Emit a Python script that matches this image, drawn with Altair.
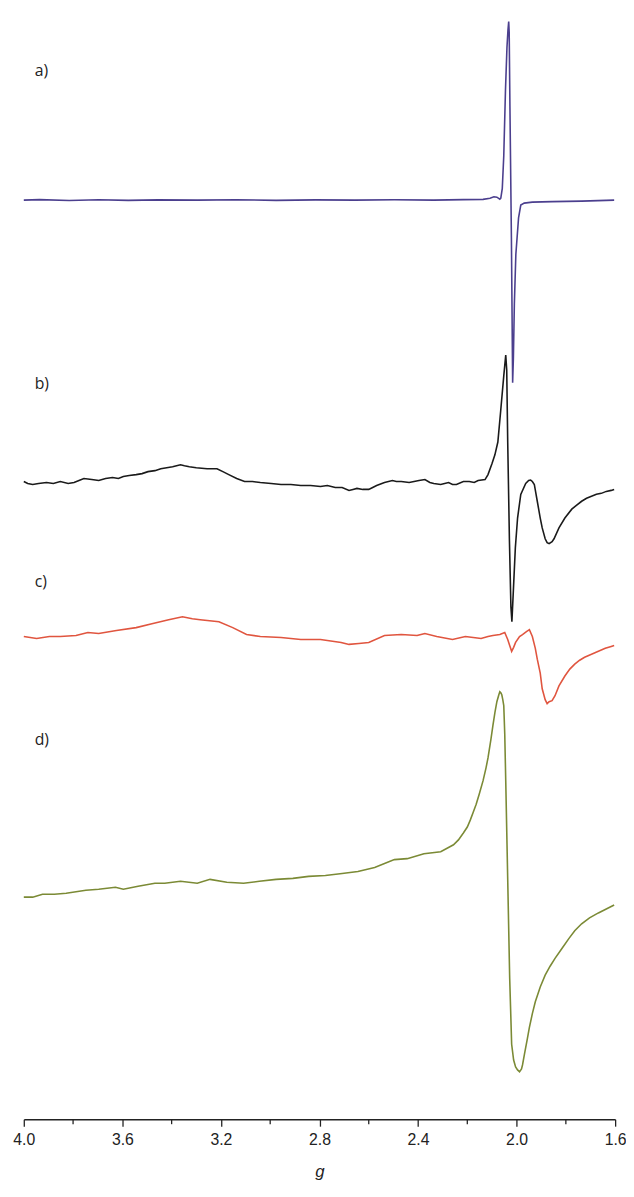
import altair as alt
import pandas as pd

# ---- data (g value, signal in arbitrary units) ----
trace_names = ["a", "b", "c", "d"]
trace_colors = ["#4b3f8e", "#1a1a1a", "#e0553f", "#7b8a35"]
trace_offsets = [931, 644, 489, 225]

a_g = [4.000, 3.936, 3.816, 3.696, 3.576, 3.456, 3.296, 3.136, 2.976, 2.816, 2.656, 2.496,
       2.336, 2.216, 2.136, 2.108, 2.092, 2.080, 2.068, 2.064, 2.058, 2.052, 2.045, 2.039,
       2.035, 2.032, 2.030, 2.027, 2.021, 2.016, 2.013, 2.009, 2.003, 1.992, 1.983, 1.969,
       1.936, 1.856, 1.736, 1.604]
a_v = [0, 0.5, -0.3, 0.4, -0.2, 0.3, 0, 0.4, -0.2, 0.3, 0, 0.4,
       0, 0.5, 0.8, 2, 3.5, 3, 1, 2, 12, 45, 112, 155,
       172, 181, 170, 95, -38, -185, -160, -105, -55, -18, -5, -3,
       -2, -1.5, -1, 0]

b_g = [4.000, 3.984, 3.964, 3.940, 3.908, 3.880, 3.852, 3.820, 3.796, 3.776, 3.756, 3.724,
       3.696, 3.668, 3.640, 3.616, 3.596, 3.572, 3.544, 3.520, 3.496, 3.468, 3.444, 3.420,
       3.396, 3.380, 3.364, 3.348, 3.328, 3.300, 3.256, 3.216, 3.192, 3.168, 3.136, 3.104,
       3.072, 3.040, 2.996, 2.956, 2.916, 2.876, 2.836, 2.796, 2.768, 2.736, 2.708, 2.680,
       2.664, 2.648, 2.624, 2.600, 2.584, 2.568, 2.536, 2.504, 2.488, 2.468, 2.436, 2.416,
       2.396, 2.372, 2.352, 2.336, 2.308, 2.292, 2.276, 2.260, 2.244, 2.216, 2.192, 2.172,
       2.156, 2.128, 2.116, 2.100, 2.088, 2.076, 2.064, 2.052, 2.044, 2.040, 2.036, 2.029,
       2.023, 2.019, 2.013, 2.005, 1.996, 1.983, 1.963, 1.951, 1.943, 1.936, 1.928, 1.916,
       1.904, 1.896, 1.884, 1.876, 1.868, 1.856, 1.848, 1.828, 1.804, 1.776, 1.756, 1.736,
       1.716, 1.696, 1.676, 1.656, 1.636, 1.616, 1.604]
b_v = [2, 0, -1, 0, 1, 0, 2, 0, 1, 3, 5, 4,
       3, 5, 6, 5, 7, 8, 9, 10, 12, 13, 15, 16,
       17, 18, 19, 18, 17, 16, 15, 15, 12, 9, 5, 2,
       2, 1, 0, -1, -1, -2, -2, -3, -2, -4, -4, -7,
       -6, -5, -6, -6, -4, -2, 1, 3, 2, 2, 1, 2,
       3, 4, 1, 0, -1, 0, 1, -1, -1, 2, 2, 1,
       3, 4, 9, 20, 29, 42, 75, 109, 130, 115, 42, -58,
       -125, -140, -108, -65, -35, -11, 0, 3, 3.5, 2, -1, -18,
       -35, -45, -56, -60, -61, -59, -56, -45, -35, -26, -22, -18,
       -15, -13, -11, -10, -8, -7, -6]

c_g = [4.000, 3.948, 3.896, 3.852, 3.788, 3.740, 3.696, 3.624, 3.544, 3.480, 3.412, 3.356,
       3.316, 3.284, 3.208, 3.152, 3.096, 3.040, 2.956, 2.876, 2.796, 2.712, 2.680, 2.640,
       2.600, 2.536, 2.468, 2.404, 2.372, 2.324, 2.260, 2.208, 2.176, 2.144, 2.116, 2.096,
       2.068, 2.048, 2.036, 2.028, 2.020, 2.012, 2.004, 1.988, 1.976, 1.960, 1.948, 1.936,
       1.924, 1.916, 1.904, 1.896, 1.884, 1.876, 1.868, 1.856, 1.844, 1.828, 1.804, 1.784,
       1.764, 1.744, 1.724, 1.696, 1.668, 1.640, 1.616, 1.604]
c_v = [0, -2, 0, 0, 1, 4, 3, 6, 9, 13, 17, 20,
       18, 17, 15, 9, 2, 0, -1, -3, -3, -6, -8, -7,
       -6, 1, 2, 1, 3, 0, -3, 0, -1, -2, 0, 1,
       2, 4, -3, -9, -15, -11, -6, 0, 2, 5, 7, 0,
       -12, -23, -37, -53, -64, -68, -66, -65, -60, -50, -40, -33,
       -28, -24, -21, -18, -15, -12, -10, -9]

d_g = [4.000, 3.964, 3.924, 3.876, 3.828, 3.748, 3.696, 3.628, 3.596, 3.536, 3.468, 3.428,
       3.364, 3.296, 3.244, 3.176, 3.108, 3.044, 2.976, 2.908, 2.844, 2.776, 2.708, 2.644,
       2.576, 2.536, 2.496, 2.444, 2.376, 2.308, 2.256, 2.236, 2.216, 2.200, 2.188, 2.176,
       2.164, 2.152, 2.136, 2.124, 2.116, 2.104, 2.096, 2.088, 2.080, 2.072, 2.068, 2.064,
       2.060, 2.056, 2.052, 2.048, 2.044, 2.036, 2.028, 2.020, 2.012, 2.004, 1.996, 1.988,
       1.980, 1.976, 1.968, 1.956, 1.948, 1.936, 1.924, 1.904, 1.884, 1.864, 1.844, 1.816,
       1.788, 1.764, 1.736, 1.704, 1.668, 1.644, 1.620, 1.604]
d_v = [0, 0, 3, 3, 4, 7, 8, 10, 8, 11, 14, 14,
       16, 14, 18, 15, 14, 16, 18, 19, 21, 22, 24, 26,
       30, 34, 38, 39, 44, 46, 53, 58, 65, 71, 78, 86,
       94, 104, 118, 131, 141, 160, 174, 187, 198, 205, 208, 207,
       205, 200, 194, 165, 118, 18, -82, -149, -165, -172, -175, -177,
       -174, -170, -159, -143, -132, -118, -106, -91, -79, -70, -62, -52,
       -42, -34, -27, -21, -16, -13, -10, -8]

label_texts = ["a)", "b)", "c)", "d)"]
label_g = [3.956, 3.956, 3.956, 3.956]
label_y = [1062, 745, 544, 384]

major_ticks = [4.0, 3.6, 3.2, 2.8, 2.4, 2.0, 1.6]
minor_ticks = [3.8, 3.4, 3.0, 2.6, 2.2, 1.8]

# ---- build tables ----
rows = []
for name, off, gs, vs in zip(trace_names, trace_offsets,
                             [a_g, b_g, c_g, d_g], [a_v, b_v, c_v, d_v]):
    for g, v in zip(gs, vs):
        rows.append({"trace": name, "g": g, "y": off + v})
df = pd.DataFrame(rows)
labels = pd.DataFrame({"text": label_texts, "g": label_g, "y": label_y})
minor = pd.DataFrame({"g": minor_ticks})

W, H = 599, 1118
xscale = alt.Scale(domain=[1.6, 4.0], reverse=True, nice=False, zero=False)
yscale = alt.Scale(domain=[0, H], nice=False, zero=False)

lines = alt.Chart(df).mark_line(strokeWidth=1.6).encode(
    x=alt.X("g:Q", scale=xscale,
            axis=alt.Axis(values=major_ticks, format=".1f", title="g",
                          tickSize=7, tickWidth=1.3, tickColor="#222",
                          domainWidth=1.3, domainColor="#222",
                          labelFont="Liberation Sans", labelFontSize=16,
                          labelColor="#222", labelPadding=6, labelFlush=False,
                          labelOverlap=False, grid=False,
                          titleFont="Liberation Sans", titleFontSize=17,
                          titleFontStyle="italic", titleFontWeight="normal",
                          titleColor="#222", titlePadding=16)),
    y=alt.Y("y:Q", scale=yscale, axis=None),
    color=alt.Color("trace:N", scale=alt.Scale(domain=trace_names, range=trace_colors),
                    legend=None),
    detail="trace:N",
)

minor_rules = alt.Chart(minor).mark_rule(color="#222", strokeWidth=1.3).encode(
    x=alt.X("g:Q", scale=xscale),
    y=alt.value(H),
    y2=alt.value(H + 5),
)

texts = alt.Chart(labels).mark_text(
    align="left", baseline="middle", font="Open Sans", fontSize=16, color="#222"
).encode(
    x=alt.X("g:Q", scale=xscale),
    y=alt.Y("y:Q", scale=yscale),
    text="text:N",
)

chart = alt.layer(lines, minor_rules, texts).properties(
    width=W, height=H,
    autosize=alt.AutoSizeParams(type="none"),
    padding={"left": 16, "top": 0, "right": 11, "bottom": 63},
).configure_view(stroke=None)

chart.save("out.html", embed_options={"renderer": "svg", "actions": False})
